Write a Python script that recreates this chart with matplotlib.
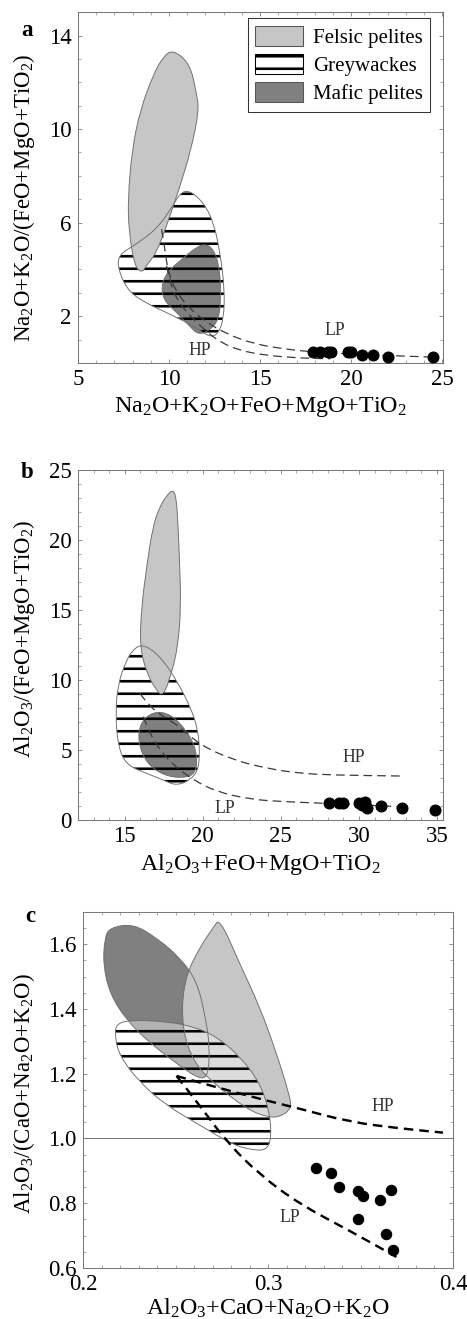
import numpy as np
import matplotlib
matplotlib.use('Agg')
import matplotlib.pyplot as plt
from matplotlib.path import Path
from matplotlib.patches import PathPatch, Patch
from matplotlib.ticker import MultipleLocator

plt.rcParams['font.family'] = ['Liberation Serif', 'DejaVu Serif']
plt.rcParams['mathtext.default'] = 'regular'
plt.rcParams['hatch.linewidth'] = 2.5

felsic_col = '#c6c6c6'
mafic_col = '#808080'
edge_col = '#6e6e6e'

# ---- panel a: fields ----
a_felsic_x = [10.2, 11.15, 11.5, 11.65, 11.2, 10.6, 9.86, 9.3, 8.75, 8.5, 8.1, 7.8, 7.74, 7.97, 8.42, 9.17, 9.7]
a_felsic_y = [13.4, 12.8, 11.55, 10.8, 9.1, 7.55, 5.86, 4.7, 4.16, 3.85, 4.16, 5.6, 7.0, 9.13, 10.83, 12.4, 13.1]
a_grey_x = [11.08, 11.9, 12.45, 12.8, 13.05, 13.0, 12.7, 12.25, 11.5, 10.23, 8.6, 7.66, 7.15, 7.3, 8.03, 9.3, 10.2, 10.6]
a_grey_y = [7.4, 6.86, 6.0, 4.72, 3.16, 1.88, 1.25, 1.1, 1.5, 2.03, 2.6, 3.16, 4.16, 4.65, 5.0, 5.7, 6.7, 7.25]
a_mafic_x = [12.0, 12.45, 12.75, 12.85, 12.75, 12.25, 11.6, 11.1, 10.4, 9.65, 9.6, 10.05, 10.8, 11.5]
a_mafic_y = [5.1, 4.85, 4.16, 3.0, 1.88, 1.4, 1.2, 1.6, 2.17, 2.73, 3.45, 4.0, 4.5, 4.95]
a_lp_x = [9.59, 9.77, 9.95, 10.41, 11.15, 12.06, 13.17, 14.63, 16.47, 18.12, 20.87, 24.54]
a_lp_y = [5.72, 4.87, 3.87, 3.02, 2.31, 1.74, 1.24, 0.82, 0.58, 0.46, 0.35, 0.25]
a_hp_x = [9.86, 10.05, 10.41, 10.96, 11.88, 12.8, 13.9, 15.37, 17.2, 18.85]
a_hp_y = [4.16, 3.45, 2.74, 2.17, 1.46, 0.89, 0.53, 0.32, 0.21, 0.18]
a_pts_x = [17.9, 18.3, 18.7, 18.9, 19.8, 20.0, 20.6, 21.2, 22.0, 24.5]
a_pts_y = [0.45, 0.45, 0.45, 0.45, 0.45, 0.45, 0.35, 0.35, 0.25, 0.25]

# ---- panel b: fields ----
b_felsic_x = [18.1, 18.3, 18.4, 18.5, 18.6, 18.4, 18.0, 17.46, 17.0, 16.4, 15.96, 16.07, 16.4, 16.8, 17.25, 17.7]
b_felsic_y = [23.6, 23.0, 21.2, 18.8, 15.2, 12.4, 10.5, 8.8, 9.3, 10.5, 12.4, 15.2, 18.1, 21.0, 22.4, 23.2]
b_grey_x = [15.96, 16.6, 17.46, 18.3, 19.2, 19.7, 19.8, 19.7, 19.2, 18.3, 17.46, 16.4, 15.1, 14.57, 14.4, 14.57, 15.1, 15.5]
b_grey_y = [12.5, 12.3, 11.4, 10.0, 8.1, 6.4, 4.76, 3.57, 2.86, 2.45, 2.86, 3.33, 3.93, 5.24, 7.6, 9.76, 11.4, 12.1]
b_mafic_x = [16.8, 17.9, 18.96, 19.6, 19.6, 18.7, 17.46, 16.4, 15.86, 15.96]
b_mafic_y = [7.75, 7.6, 6.4, 5.0, 3.33, 2.98, 3.2, 4.05, 5.48, 6.9]
b_hp_x = [15.96, 16.6, 17.46, 18.53, 19.81, 21.95, 24.09, 26.23, 28.37, 32.86]
b_hp_y = [9.05, 8.1, 7.38, 6.67, 5.36, 4.29, 3.69, 3.33, 3.21, 3.14]
b_lp_x = [16.18, 16.6, 17.25, 18.1, 19.39, 20.88, 23.02, 25.16, 27.94, 32.65]
b_lp_y = [7.38, 6.19, 5.0, 3.93, 2.86, 2.02, 1.48, 1.31, 1.19, 0.95]
b_pts_x = [28.1, 28.7, 29.0, 30.0, 30.2, 30.4, 30.5, 31.4, 32.75, 34.9]
b_pts_y = [1.24, 1.24, 1.19, 1.19, 1.1, 1.31, 0.88, 1.02, 0.83, 0.71]

# ---- panel c: fields ----
c_mafic_x = [0.2144, 0.2270, 0.2396, 0.2523, 0.2613, 0.2658, 0.2685, 0.2676, 0.2631, 0.2523, 0.2360, 0.2234, 0.2144, 0.2108, 0.2117]
c_mafic_y = [1.651, 1.663, 1.620, 1.559, 1.488, 1.386, 1.285, 1.193, 1.183, 1.224, 1.295, 1.366, 1.447, 1.539, 1.620]
c_felsic_x = [0.2739, 0.2847, 0.2955, 0.3045, 0.3117, 0.3126, 0.3063, 0.2991, 0.2883, 0.2721, 0.2613, 0.2550, 0.2532, 0.2559, 0.2631, 0.2703]
c_felsic_y = [1.680, 1.539, 1.407, 1.264, 1.132, 1.092, 1.066, 1.066, 1.092, 1.163, 1.224, 1.305, 1.407, 1.508, 1.590, 1.651]
c_grey_x = [0.2180, 0.2270, 0.2450, 0.2595, 0.2721, 0.2847, 0.2955, 0.3009, 0.3018, 0.2991, 0.2919, 0.2811, 0.2631, 0.2450, 0.2306, 0.2198, 0.2171]
c_grey_y = [1.356, 1.366, 1.361, 1.346, 1.315, 1.254, 1.173, 1.081, 1.000, 0.964, 0.964, 0.980, 1.041, 1.102, 1.173, 1.254, 1.315]
c_hp_x = [0.2505, 0.2721, 0.2991, 0.3171, 0.3441, 0.3712, 0.3946]
c_hp_y = [1.193, 1.158, 1.117, 1.092, 1.051, 1.031, 1.018]
c_lp_x = [0.2505, 0.2631, 0.2775, 0.2955, 0.3171, 0.3441, 0.3694]
c_lp_y = [1.193, 1.102, 0.990, 0.888, 0.797, 0.715, 0.634]
c_pts_x = [0.3261, 0.3339, 0.3384, 0.3486, 0.3514, 0.3604, 0.3667, 0.3486, 0.3640, 0.3676]
c_pts_y = [0.908, 0.893, 0.849, 0.839, 0.822, 0.809, 0.842, 0.751, 0.705, 0.654]


def closed_path(xs, ys):
    v = np.column_stack([xs, ys])
    mid = (v + np.roll(v, -1, axis=0)) / 2
    verts = [mid[-1]]
    codes = [Path.MOVETO]
    for i in range(len(v)):
        verts += [v[i], mid[i]]
        codes += [Path.CURVE3, Path.CURVE3]
    return Path(verts, codes)


def open_path(xs, ys):
    v = np.column_stack([xs, ys])
    verts = [v[0]]
    codes = [Path.MOVETO]
    for i in range(1, len(v) - 1):
        verts += [v[i], (v[i] + v[i + 1]) / 2]
        codes += [Path.CURVE3, Path.CURVE3]
    verts.append(v[-1])
    codes.append(Path.LINETO)
    return Path(verts, codes)


def draw_fields(ax, felsic, grey, mafic, grey_over=False):
    pf, pg, pm = closed_path(*felsic), closed_path(*grey), closed_path(*mafic)
    if grey_over:
        # greywacke field lies translucent over both pelite fields
        ax.add_patch(PathPatch(pm, facecolor=mafic_col, edgecolor='none', zorder=1))
        ax.add_patch(PathPatch(pf, facecolor=felsic_col, edgecolor='none', zorder=1.5))
        ax.add_patch(PathPatch(pg, facecolor='white', alpha=0.4, edgecolor='none', zorder=2))
        ax.add_patch(PathPatch(pg, fill=False, edgecolor='black', lw=0, hatch='-', zorder=3))
    else:
        ax.add_patch(PathPatch(pg, facecolor='white', edgecolor='none', zorder=1))
        ax.add_patch(PathPatch(pm, facecolor=mafic_col, edgecolor='none', zorder=2))
        ax.add_patch(PathPatch(pg, fill=False, edgecolor='black', lw=0, hatch='-', zorder=3))
        ax.add_patch(PathPatch(pf, facecolor=felsic_col, edgecolor='none', zorder=3.5))
    for p in (pg, pm, pf):
        ax.add_patch(PathPatch(p, fill=False, edgecolor=edge_col, lw=0.9, zorder=4))


def draw_curve(ax, xs, ys, lw=1.2, color='#3a3a3a', dashes=(7, 4)):
    ax.add_patch(PathPatch(open_path(xs, ys), fill=False, edgecolor=color, lw=lw,
                           linestyle=(0, dashes), zorder=5))


def style(ax):
    for s in ax.spines.values():
        s.set_color('#7a7a7a')
        s.set_linewidth(1.0)
    ax.tick_params(which='both', direction='in', top=True, right=True, color='#7a7a7a',
                   labelsize=22, pad=6)
    ax.tick_params(which='major', length=4)
    ax.tick_params(which='minor', length=2.5)


fig = plt.figure(figsize=(467 / 75, 1319 / 75), dpi=75)

# panel a
ax = fig.add_axes([0.167, 0.7248, 0.782, 0.266])
draw_fields(ax, (a_felsic_x, a_felsic_y), (a_grey_x, a_grey_y), (a_mafic_x, a_mafic_y))
draw_curve(ax, a_lp_x, a_lp_y)
draw_curve(ax, a_hp_x, a_hp_y)
ax.plot(a_pts_x, a_pts_y, 'o', color='black', ms=10.5, zorder=6)
ax.text(11.7, 0.55, 'HP', fontsize=17, ha='center', va='center', color='#333333')
ax.text(19.1, 1.4, 'LP', fontsize=17, ha='center', va='center', color='#333333')
ax.set_xlim(5, 25.05)
ax.set_ylim(0, 15)
ax.set_xticks([5, 10, 15, 20, 25])
ax.set_yticks([2, 6, 10, 14])
ax.xaxis.set_minor_locator(MultipleLocator(1))
ax.yaxis.set_minor_locator(MultipleLocator(1))
ax.set_xlabel('Na$_2$O+K$_2$O+FeO+MgO+TiO$_2$', fontsize=23, labelpad=5)
ax.set_ylabel('Na$_2$O+K$_2$O/(FeO+MgO+TiO$_2$)', fontsize=22)
ax.yaxis.set_label_coords(-0.112, 0.47)
style(ax)
handles = [Patch(facecolor=felsic_col, edgecolor='#555555', lw=1),
           Patch(facecolor='white', edgecolor='black', hatch='-', lw=1),
           Patch(facecolor=mafic_col, edgecolor='#555555', lw=1)]
leg = ax.legend(handles, ['Felsic pelites', 'Greywackes', 'Mafic pelites'], loc='upper right',
                fontsize=20, handlelength=2.3, handleheight=1.1, handletextpad=0.5,
                labelspacing=0.3, borderpad=0.35, borderaxespad=0, fancybox=False,
                framealpha=1, bbox_to_anchor=(0.965, 0.982))
leg.get_frame().set_edgecolor('#333333')
leg.get_frame().set_linewidth(1.0)

# panel b
ax = fig.add_axes([0.167, 0.3783, 0.782, 0.2654])
draw_fields(ax, (b_felsic_x, b_felsic_y), (b_grey_x, b_grey_y), (b_mafic_x, b_mafic_y))
draw_curve(ax, b_hp_x, b_hp_y)
draw_curve(ax, b_lp_x, b_lp_y)
ax.plot(b_pts_x, b_pts_y, 'o', color='black', ms=10.5, zorder=6)
ax.text(29.7, 4.5, 'HP', fontsize=17, ha='center', va='center', color='#333333')
ax.text(21.4, 0.85, 'LP', fontsize=17, ha='center', va='center', color='#333333')
ax.set_xlim(12, 35.4)
ax.set_ylim(0, 25)
ax.set_xticks([15, 20, 25, 30, 35])
ax.set_yticks([0, 5, 10, 15, 20, 25])
ax.xaxis.set_minor_locator(MultipleLocator(1))
ax.yaxis.set_minor_locator(MultipleLocator(1))
ax.set_xlabel('Al$_2$O$_3$+FeO+MgO+TiO$_2$', fontsize=23, labelpad=5)
ax.set_ylabel('Al$_2$O$_3$/(FeO+MgO+TiO$_2$)', fontsize=22)
ax.yaxis.set_label_coords(-0.112, 0.517)
style(ax)

# panel c
ax = fig.add_axes([0.178, 0.0387, 0.792, 0.270])
draw_fields(ax, (c_felsic_x, c_felsic_y), (c_grey_x, c_grey_y), (c_mafic_x, c_mafic_y), grey_over=True)
ax.axhline(1.0, color='#7a7a7a', lw=1.0, zorder=4)
draw_curve(ax, c_hp_x, c_hp_y, lw=2.3, color='black', dashes=(4, 2.5))
draw_curve(ax, c_lp_x, c_lp_y, lw=2.3, color='black', dashes=(4, 2.5))
ax.plot(c_pts_x, c_pts_y, 'o', color='black', ms=10, zorder=6)
ax.text(0.362, 1.10, 'HP', fontsize=17, ha='center', va='center', color='#333333')
ax.text(0.312, 0.756, 'LP', fontsize=17, ha='center', va='center', color='#333333')
ax.set_xlim(0.2, 0.4)
ax.set_ylim(0.6, 1.7)
ax.set_xticks([0.2, 0.3, 0.4])
ax.set_yticks([0.6, 0.8, 1.0, 1.2, 1.4, 1.6])
ax.xaxis.set_minor_locator(MultipleLocator(0.01))
ax.yaxis.set_minor_locator(MultipleLocator(0.05))
ax.set_xlabel('Al$_2$O$_3$+CaO+Na$_2$O+K$_2$O', fontsize=23, labelpad=1)
ax.set_ylabel('Al$_2$O$_3$/(CaO+Na$_2$O+K$_2$O)', fontsize=22)
ax.yaxis.set_label_coords(-0.124, 0.49)
style(ax)

fig.text(0.058, 0.977, 'a', fontsize=22, fontweight='bold', ha='center', va='center')
fig.text(0.058, 0.642, 'b', fontsize=22, fontweight='bold', ha='center', va='center')
fig.text(0.064, 0.305, 'c', fontsize=22, fontweight='bold', ha='center', va='center')

fig.savefig('out.png', dpi=75, facecolor='white')
